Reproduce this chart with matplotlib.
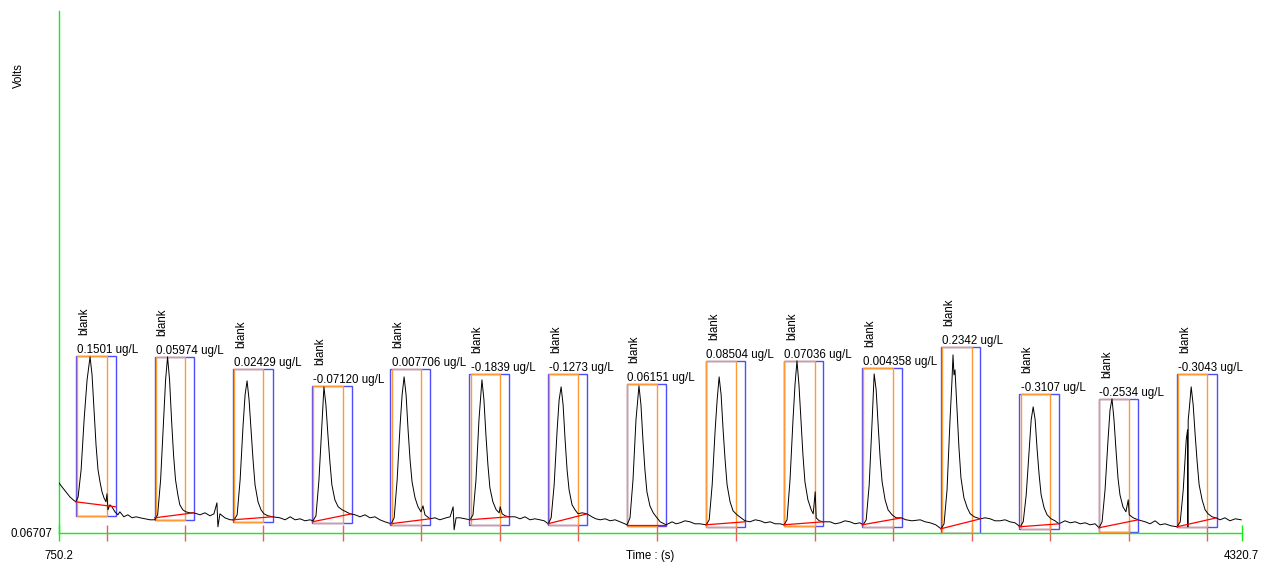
import matplotlib.pyplot as plt
from matplotlib.patches import Rectangle

plt.rcParams['font.family'] = ['Liberation Sans', 'DejaVu Sans']
plt.rcParams['font.size'] = 8.3

# detector trace: (time s, volts)
trace = [
    (750, 0.117), (759, 0.113), (771, 0.108), (783, 0.103), (793, 0.100),
    # peak 1
    (801, 0.098), (808, 0.103), (817, 0.130), (826, 0.180), (835, 0.220), (844, 0.243),
    (850, 0.225), (856, 0.190), (862, 0.155), (868, 0.130), (874, 0.118), (880, 0.108),
    (886, 0.102), (892, 0.098), (895, 0.106), (898, 0.090), (904, 0.095), (910, 0.093),
    (919, 0.088), (928, 0.085), (934, 0.088), (946, 0.083), (958, 0.085), (971, 0.082),
    (983, 0.083), (995, 0.082), (1010, 0.081), (1025, 0.080),
    # peak 2
    (1039, 0.080), (1048, 0.085), (1057, 0.120), (1066, 0.180), (1072, 0.220), (1078, 0.243),
    (1084, 0.220), (1090, 0.180), (1096, 0.145), (1102, 0.120), (1109, 0.105), (1115, 0.095),
    (1124, 0.090), (1133, 0.088), (1145, 0.087), (1157, 0.087), (1176, 0.085), (1191, 0.087),
    (1206, 0.084), (1218, 0.086), (1227, 0.097), (1230, 0.073), (1236, 0.086), (1251, 0.082),
    (1267, 0.080),
    # peak 3
    (1279, 0.080), (1288, 0.085), (1297, 0.120), (1306, 0.175), (1312, 0.205), (1318, 0.219),
    (1324, 0.200), (1330, 0.170), (1336, 0.140), (1342, 0.115), (1351, 0.098), (1360, 0.090),
    (1369, 0.086), (1381, 0.084), (1396, 0.083), (1417, 0.082), (1433, 0.080), (1448, 0.083),
    (1463, 0.080), (1478, 0.081), (1493, 0.079), (1508, 0.080),
    # peak 4
    (1517, 0.079), (1526, 0.084), (1535, 0.120), (1544, 0.175), (1550, 0.213), (1556, 0.195),
    (1562, 0.165), (1568, 0.138), (1574, 0.115), (1583, 0.100), (1593, 0.093), (1605, 0.090),
    (1617, 0.088), (1629, 0.086), (1644, 0.085), (1659, 0.083), (1674, 0.085), (1689, 0.082),
    (1704, 0.083), (1719, 0.080), (1734, 0.078),
    # peak 5
    (1753, 0.076), (1762, 0.082), (1771, 0.120), (1780, 0.175), (1786, 0.205), (1792, 0.223),
    (1798, 0.205), (1804, 0.170), (1810, 0.140), (1816, 0.118), (1825, 0.102), (1834, 0.093),
    (1843, 0.088), (1849, 0.094), (1855, 0.085), (1870, 0.081), (1885, 0.082), (1900, 0.080),
    (1919, 0.082), (1931, 0.083), (1940, 0.093), (1943, 0.070), (1949, 0.082), (1961, 0.082),
    (1976, 0.081),
    # peak 6
    (1991, 0.080), (2000, 0.085), (2009, 0.120), (2018, 0.180), (2027, 0.220), (2033, 0.200),
    (2039, 0.165), (2045, 0.135), (2051, 0.112), (2060, 0.098), (2070, 0.090), (2079, 0.087),
    (2082, 0.093), (2088, 0.086), (2097, 0.084), (2109, 0.083), (2127, 0.083), (2142, 0.081),
    (2157, 0.083), (2172, 0.080), (2187, 0.081), (2202, 0.080), (2215, 0.079),
    # peak 7
    (2227, 0.076), (2236, 0.082), (2245, 0.115), (2254, 0.170), (2260, 0.200), (2266, 0.213),
    (2272, 0.195), (2278, 0.160), (2284, 0.130), (2290, 0.110), (2299, 0.095), (2308, 0.090),
    (2317, 0.086), (2329, 0.087), (2344, 0.086), (2359, 0.083), (2371, 0.081), (2384, 0.080),
    (2399, 0.081), (2414, 0.079), (2429, 0.080), (2444, 0.078),
    # peak 8
    (2465, 0.075), (2474, 0.082), (2483, 0.120), (2492, 0.180), (2501, 0.214), (2507, 0.195),
    (2513, 0.160), (2519, 0.130), (2525, 0.108), (2534, 0.094), (2544, 0.087), (2553, 0.083),
    (2565, 0.078), (2583, 0.075), (2601, 0.078), (2613, 0.076), (2625, 0.077), (2640, 0.079),
    (2655, 0.078), (2670, 0.076), (2685, 0.076),
    # peak 9
    (2704, 0.075), (2713, 0.080), (2722, 0.115), (2731, 0.170), (2737, 0.200), (2743, 0.223),
    (2749, 0.205), (2755, 0.170), (2761, 0.140), (2767, 0.115), (2776, 0.098), (2785, 0.089),
    (2797, 0.085), (2809, 0.082), (2821, 0.079), (2836, 0.078), (2852, 0.080), (2867, 0.079),
    (2882, 0.077), (2897, 0.078), (2912, 0.076), (2927, 0.076),
    # peak 10
    (2939, 0.075), (2948, 0.080), (2957, 0.120), (2966, 0.180), (2972, 0.215), (2978, 0.239),
    (2984, 0.215), (2990, 0.180), (2996, 0.145), (3002, 0.118), (3011, 0.100), (3021, 0.090),
    (3027, 0.086), (3033, 0.108), (3036, 0.082), (3045, 0.079), (3057, 0.078), (3078, 0.078),
    (3093, 0.076), (3108, 0.077), (3123, 0.079), (3138, 0.078), (3153, 0.076), (3168, 0.077),
    # peak 11
    (3178, 0.075), (3187, 0.080), (3196, 0.115), (3205, 0.180), (3211, 0.226), (3217, 0.210),
    (3223, 0.175), (3229, 0.142), (3235, 0.118), (3244, 0.100), (3253, 0.090), (3265, 0.085),
    (3277, 0.082), (3292, 0.082), (3307, 0.080), (3325, 0.079), (3350, 0.080), (3365, 0.078),
    (3380, 0.077), (3397, 0.075),
    # peak 12
    (3413, 0.071), (3422, 0.076), (3431, 0.110), (3440, 0.180), (3446, 0.220), (3449, 0.245),
    (3452, 0.225), (3455, 0.230), (3461, 0.190), (3467, 0.152), (3473, 0.122), (3482, 0.102),
    (3492, 0.092), (3501, 0.086), (3513, 0.083), (3531, 0.081), (3546, 0.082), (3561, 0.081),
    (3576, 0.079), (3591, 0.079), (3606, 0.080), (3621, 0.078), (3636, 0.077),
    # peak 13
    (3652, 0.073), (3661, 0.078), (3670, 0.105), (3679, 0.150), (3685, 0.180), (3691, 0.193),
    (3697, 0.180), (3703, 0.150), (3709, 0.125), (3715, 0.105), (3724, 0.092), (3733, 0.085),
    (3745, 0.081), (3757, 0.079), (3769, 0.076), (3787, 0.079), (3803, 0.077), (3818, 0.078),
    (3833, 0.076), (3848, 0.077), (3863, 0.075), (3878, 0.076),
    # peak 14
    (3890, 0.072), (3899, 0.078), (3908, 0.110), (3917, 0.160), (3923, 0.190), (3929, 0.201),
    (3935, 0.180), (3941, 0.150), (3947, 0.122), (3953, 0.105), (3962, 0.093), (3971, 0.088),
    (3978, 0.100), (3981, 0.085), (3993, 0.082), (4008, 0.080), (4029, 0.078), (4044, 0.076),
    (4059, 0.079), (4074, 0.075), (4089, 0.076), (4107, 0.074),
    # peak 15
    (4125, 0.073), (4135, 0.078), (4144, 0.110), (4153, 0.160), (4157, 0.170), (4158, 0.073),
    (4159, 0.180), (4162, 0.190), (4168, 0.213), (4174, 0.195), (4180, 0.165), (4186, 0.138),
    (4192, 0.115), (4201, 0.100), (4210, 0.090), (4219, 0.086), (4231, 0.083), (4243, 0.082),
    (4255, 0.080), (4270, 0.082), (4285, 0.079), (4301, 0.081), (4319, 0.080),
]

# integration windows for each peak
blue_start = [801, 1039, 1275, 1515, 1750, 1989, 2226, 2464, 2703, 2938, 3175, 3412, 3649, 3889, 4125]
blue_end = [921, 1158, 1395, 1634, 1870, 2108, 2345, 2583, 2821, 3058, 3294, 3532, 3770, 4008, 4245]
orange_start = [806, 1042, 1279, 1518, 1755, 1993, 2229, 2466, 2704, 2940, 3178, 3415, 3654, 3891, 4128]
orange_end = [895, 1131, 1367, 1607, 1844, 2080, 2318, 2555, 2793, 3031, 3267, 3505, 3742, 3981, 4217]
box_top = [0.244, 0.243, 0.231, 0.214, 0.231, 0.226, 0.226, 0.216, 0.239, 0.239, 0.232, 0.253, 0.206, 0.201, 0.226]
box_bottom = [0.084, 0.080, 0.078, 0.077, 0.075, 0.075, 0.075, 0.074, 0.073, 0.074, 0.073, 0.067, 0.071, 0.068, 0.073]

# fitted baselines under each peak
base_v0 = [0.098, 0.082, 0.080, 0.078, 0.076, 0.080, 0.076, 0.075, 0.075, 0.075, 0.075, 0.071, 0.073, 0.072, 0.073]
base_v1 = [0.093, 0.087, 0.083, 0.086, 0.081, 0.083, 0.086, 0.075, 0.078, 0.078, 0.082, 0.081, 0.076, 0.080, 0.082]

sample_names = ['blank'] * 15
conc = ['0.1501', '0.05974', '0.02429', '-0.07120', '0.007706', '-0.1839', '-0.1273', '0.06151',
        '0.08504', '0.07036', '0.004358', '0.2342', '-0.3107', '-0.2534', '-0.3043']

t_min, t_max = 750.2, 4320.7
v_min, v_max = 0.06707, 0.589

green = '#11ee11'
fig = plt.figure(figsize=(12.74, 5.68), dpi=100)
ax = fig.add_axes([0.0463, 0.0621, 0.9284, 0.9185])

# peak windows
for i in range(len(conc)):
    h = box_top[i] - box_bottom[i]
    ax.add_patch(Rectangle((blue_start[i], box_bottom[i]), blue_end[i] - blue_start[i], h,
                           fill=False, ec='#4d4dff', lw=1.0, zorder=2))
    ax.add_patch(Rectangle((orange_start[i], box_bottom[i]), orange_end[i] - orange_start[i], h,
                           fill=False, ec='#ff9933', lw=1.0, zorder=3))

# the trace
trace_t, trace_v = zip(*trace)
ax.plot(trace_t, trace_v, color='black', lw=0.7, zorder=4)

# baselines and labels
for i in range(len(conc)):
    ax.plot([blue_start[i], blue_end[i]], [base_v0[i], base_v1[i]], color='red', lw=0.9, zorder=5)
    ax.annotate(conc[i] + ' ug/L', (orange_start[i], box_top[i]), xytext=(0, 1.9),
                textcoords='offset points', ha='left', va='baseline')
    ax.annotate(sample_names[i], (blue_start[i], box_top[i]), xytext=(5.8, 15),
                textcoords='offset points', ha='center', va='bottom', rotation=90)

ax.set_xlim(t_min, t_max)
ax.set_ylim(v_min, v_max)

for s in ['top', 'right']:
    ax.spines[s].set_visible(False)
for s in ['left', 'bottom']:
    ax.spines[s].set_color(green)
    ax.spines[s].set_linewidth(1.0)

# red marks at the end of each window, green end marks on the time axis
ax.set_xticks(orange_end)
ax.set_xticklabels([])
ax.tick_params(axis='x', which='major', direction='inout', length=11, width=1.0, color='#f05a5a')
ax.set_xticks([t_min, t_max], minor=True)
ax.tick_params(axis='x', which='minor', direction='inout', length=11, width=1.0, color=green)

ax.set_yticks([v_min])
ax.set_yticklabels(['0.06707'])
ax.tick_params(axis='y', length=0, pad=5)

for x, txt in [(t_min, '750.2'), (t_max, '4320.7'), ((t_min + t_max) / 2, 'Time : (s)')]:
    ax.annotate(txt, (x, 0), xycoords=ax.get_xaxis_transform(), xytext=(0, -17),
                textcoords='offset points', ha='center', va='center', annotation_clip=False)

fig.text(19 / 1274, 1 - 76 / 568, 'Volts', rotation=90, ha='center', va='center')

fig.savefig('out.png', dpi=100)
